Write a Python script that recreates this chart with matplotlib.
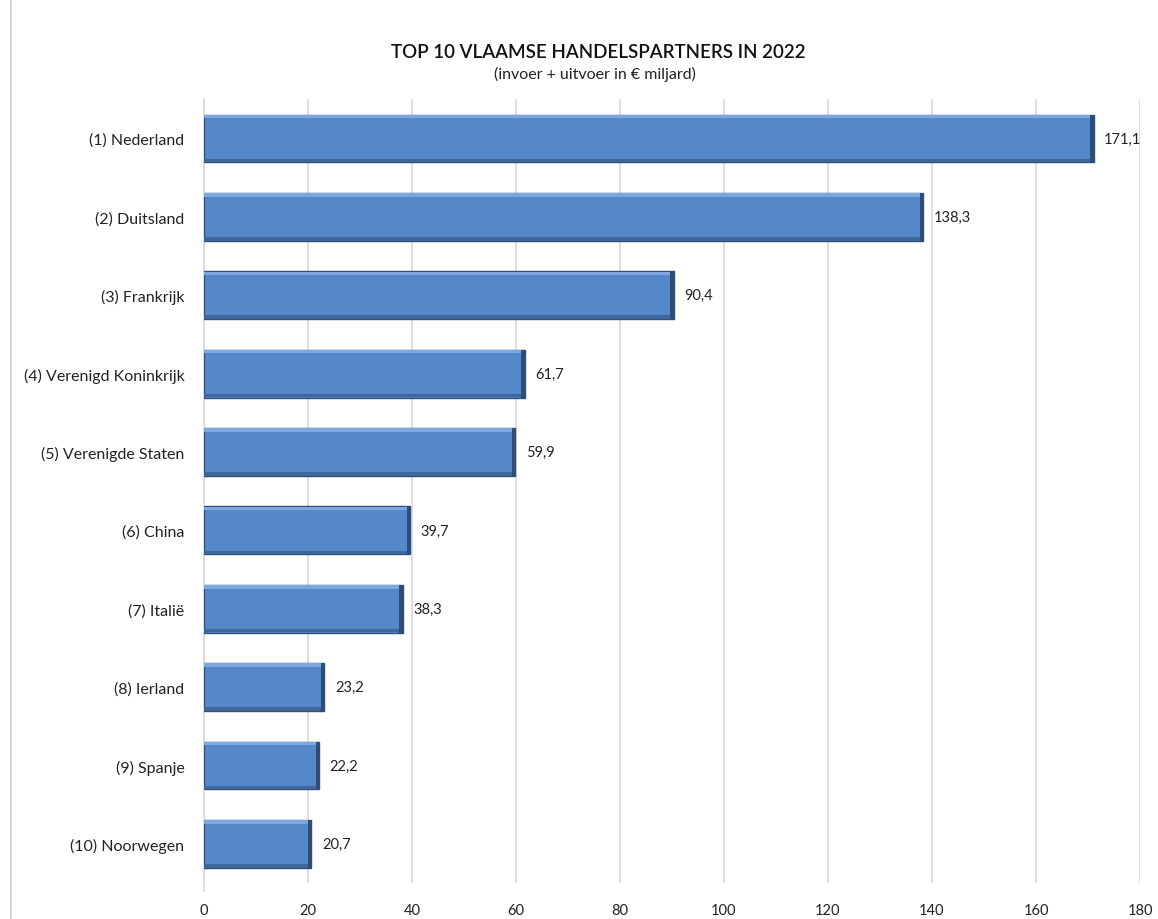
import matplotlib.pyplot as plt
from matplotlib.lines import Line2D

countries = [
    "(1) Nederland", "(2) Duitsland", "(3) Frankrijk", "(4) Verenigd Koninkrijk",
    "(5) Verenigde Staten", "(6) China", "(7) Italië", "(8) Ierland",
    "(9) Spanje", "(10) Noorwegen",
]
values = [171.1, 138.3, 90.4, 61.7, 59.9, 39.7, 38.3, 23.2, 22.2, 20.7]
xticks = [0, 20, 40, 60, 80, 100, 120, 140, 160, 180]

plt.rcParams["font.family"] = ["Lato", "DejaVu Sans"]

fig = plt.figure(figsize=(11.58, 9.2), dpi=100)
ax = fig.add_axes([0.176, 0.039, 0.8085, 0.852])

pos = list(range(len(countries)))
h = 0.61
# base bar
ax.barh(pos, values, height=h, color="#5588C9", edgecolor="#2F4F7A", linewidth=1.0, zorder=3)
# bevel: light strip on top, dark strip at bottom, dark right edge
ax.barh([p - h / 2 + 0.025 for p in pos], values, height=0.045, color="#7DA7DE", linewidth=0, zorder=4)
ax.barh([p + h / 2 - 0.025 for p in pos], values, height=0.045, color="#3F679C", linewidth=0, zorder=4)
ax.barh(pos, [0.7] * len(values), left=[v - 0.7 for v in values], height=h, color="#2D4D78", linewidth=0, zorder=4)

for p, v in zip(pos, values):
    ax.text(v + 2, p, f"{v:.1f}".replace(".", ","), va="center", ha="left", fontsize=10.5, color="#222222")

ax.set_yticks(pos)
ax.set_yticklabels(countries, fontsize=11.5, color="#222222")
ax.set_ylim(len(countries) - 0.5, -0.5)
ax.set_xlim(0, 180)
ax.set_xticks(xticks)
ax.set_xticklabels([str(t) for t in xticks], fontsize=10.5, color="#222222")
ax.tick_params(axis="y", length=0, pad=14)
ax.tick_params(axis="x", length=0, pad=14)
ax.grid(axis="x", color="#D9D9D9", linewidth=1.2, zorder=0)
for s in ax.spines.values():
    s.set_visible(False)

ax.plot([0, 0], [-0.5, len(countries) - 0.4], color="#D9D9D9", linewidth=1.2, zorder=1, clip_on=False)

fig.text(0.517, 0.943, "TOP 10 VLAAMSE HANDELSPARTNERS IN 2022", ha="center", va="center",
         fontsize=13.5, fontweight="semibold", color="#111111")
fig.text(0.514, 0.919, "(invoer + uitvoer in € miljard)", ha="center", va="center",
         fontsize=11.5, color="#222222")

fig.add_artist(Line2D([0.0095, 0.0095], [0, 1], color="#D0D0D0", linewidth=1.2))

fig.savefig("out.png", dpi=100)
